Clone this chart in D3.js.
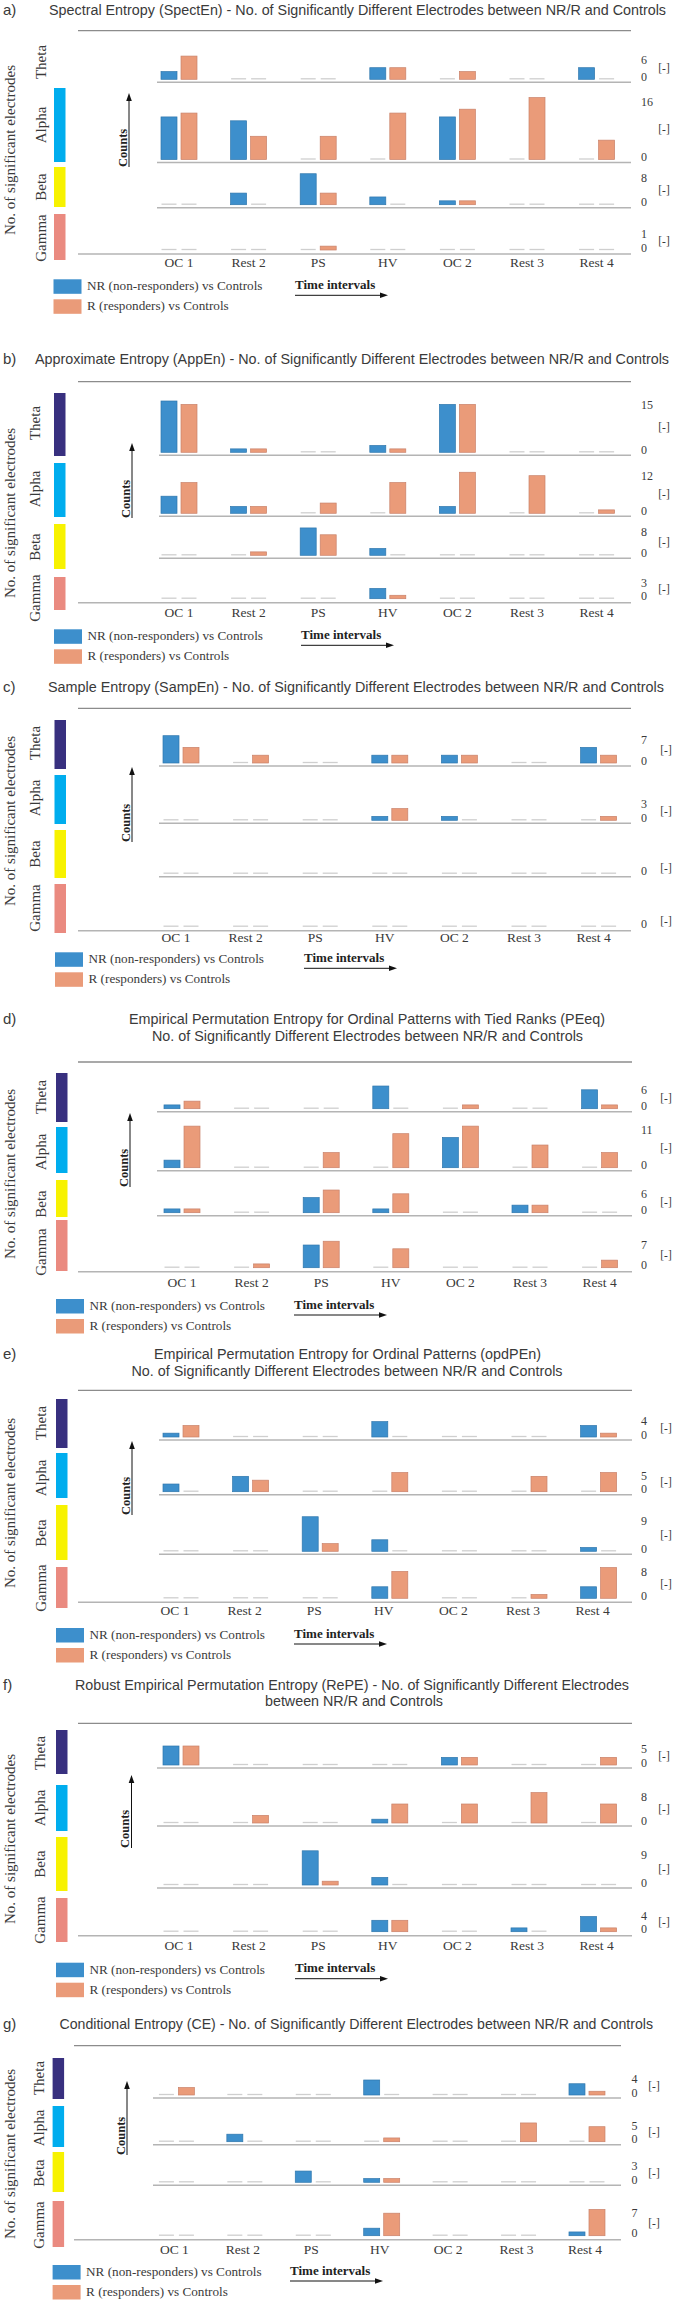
<!DOCTYPE html>
<html>
<head>
<meta charset="utf-8">
<script src="https://cdn.jsdelivr.net/npm/d3@7"></script>
<style>
body { margin:0; background:#fff; }
svg { display:block; }
</style>
</head>
<body>
<div id="chart"></div>
<script>
var categories = ['OC 1','Rest 2','PS','HV','OC 2','Rest 3','Rest 4'];
var bands = ['Theta','Alpha','Beta','Gamma'];
var seriesNames = ['NR (non-responders) vs Controls','R (responders) vs Controls'];
var panelLetters = ['a','b','c','d','e','f','g'];

// rows = Theta, Alpha, Beta, Gamma ; columns = categories
var spectEnNR = [[2,0,0,3,0,0,3],[11,10,0,0,11,0,0],[0,3,8,2,1,0,0],[0,0,0,0,0,0,0]];
var spectEnR  = [[6,0,0,3,2,0,0],[12,6,6,12,13,16,5],[0,0,3,0,1,0,0],[0,0,1,0,0,0,0]];
var spectEnMax = [6,16,8,1];

var appEnNR = [[15,1,0,2,14,0,0],[5,2,0,0,2,0,0],[0,0,8,2,0,0,0],[0,0,0,3,0,0,0]];
var appEnR  = [[14,1,0,1,14,0,0],[9,2,3,9,12,11,1],[0,1,6,0,0,0,0],[0,0,0,1,0,0,0]];
var appEnMax = [15,12,8,3];

var sampEnNR = [[7,0,0,2,2,0,4],[0,0,0,1,1,0,0],[0,0,0,0,0,0,0],[0,0,0,0,0,0,0]];
var sampEnR  = [[4,2,0,2,2,0,2],[0,0,0,3,0,0,1],[0,0,0,0,0,0,0],[0,0,0,0,0,0,0]];
var sampEnMax = [7,3,0,0];

var peeqNR = [[1,0,0,6,0,0,5],[2,0,0,0,8,0,0],[1,0,4,1,0,2,0],[0,0,6,0,0,0,0]];
var peeqR  = [[2,0,0,0,1,0,1],[11,0,4,9,11,6,4],[1,0,6,5,0,2,0],[0,1,7,5,0,0,2]];
var peeqMax = [6,11,6,7];

var opdPEnNR = [[1,0,0,4,0,0,3],[2,4,0,0,0,0,0],[0,0,9,3,0,0,1],[0,0,0,3,0,0,3]];
var opdPEnR  = [[3,0,0,0,0,0,1],[0,3,0,5,0,4,5],[0,0,2,0,0,0,0],[0,0,0,7,0,1,8]];
var opdPEnMax = [4,5,9,8];

var repeNR = [[5,0,0,0,2,0,0],[0,0,0,1,0,0,0],[0,0,9,2,0,0,0],[0,0,0,3,0,1,4]];
var repeR  = [[5,0,0,0,2,0,2],[0,2,0,5,5,8,5],[0,0,1,0,0,0,0],[0,0,0,3,0,0,1]];
var repeMax = [5,8,9,4];

var ceNR = [[0,0,0,4,0,0,3],[0,2,0,0,0,0,0],[0,0,3,1,0,0,0],[0,0,0,2,0,0,1]];
var ceR  = [[2,0,0,0,0,0,1],[0,0,0,1,0,5,4],[0,0,0,1,0,0,0],[0,0,0,6,0,0,7]];
var ceMax = [4,5,3,7];

var panelTitles = [
  ['Spectral Entropy (SpectEn) - No. of Significantly Different Electrodes between NR/R and Controls'],
  ['Approximate Entropy (AppEn) - No. of Significantly Different Electrodes between NR/R and Controls'],
  ['Sample Entropy (SampEn) - No. of Significantly Different Electrodes between NR/R and Controls'],
  ['Empirical Permutation Entropy for Ordinal Patterns with Tied Ranks (PEeq)','No. of Significantly Different Electrodes between NR/R and Controls'],
  ['Empirical Permutation Entropy for Ordinal Patterns (opdPEn)','No. of Significantly Different Electrodes between NR/R and Controls'],
  ['Robust Empirical Permutation Entropy (RePE) - No. of Significantly Different Electrodes','between NR/R and Controls'],
  ['Conditional Entropy (CE) - No. of Significantly Different Electrodes between NR/R and Controls']
];
var panelNR = [spectEnNR, appEnNR, sampEnNR, peeqNR, opdPEnNR, repeNR, ceNR];
var panelR = [spectEnR, appEnR, sampEnR, peeqR, opdPEnR, repeR, ceR];
var panelMax = [spectEnMax, appEnMax, sampEnMax, peeqMax, opdPEnMax, repeMax, ceMax];

// page layout of each panel (pixels)
var layouts = [
  {titleY:[14.5], titleX:[[49,617]], top:30.7, base:[79.3,159.5,204.7,250], unit:3.87,
   cbar:[null,[88,162],[167,207],[214,260]], cbx:54, lab:[62,125,187,238], labX:40.5, yTitle:150,
   counts:[129,167,93], cat:262.3, catDx:0, leg:279.3, legX:53.5, time:295, xr:[144.2,631.4], lines:[78,157,631], rx:641, bx:664},
  {titleY:[364], titleX:[[35,634]], top:381.7, base:[452.3,513.3,555.3,598.7], unit:3.42,
   cbar:[[393,456],[463,517],[524,569],[577,610]], cbx:54, lab:[423,489,547,598], labX:35, yTitle:513,
   counts:[132,518,443], cat:612.7, catDx:0, leg:629.3, legX:54, time:301, xr:[144.2,631.4], lines:[78,159,631], rx:641, bx:664},
  {titleY:[691.7], titleX:[[48,616]], top:708.3, base:[763,820.3,873.7,926.7], unit:3.9,
   cbar:[[720,769],[775,824],[830,878],[884,933]], cbx:54.5, lab:[743,798,854,908], labX:35, yTitle:821,
   counts:[132,842,767], cat:937.7, catDx:-5, leg:952.3, legX:55, time:304, xr:[146.2,633.4], lines:[78,159,631], rx:641, bx:666},
  {titleY:[1024,1040.7], titleX:[[129,476],[152,431]], top:1062, base:[1108.7,1167.7,1212.7,1267.7], unit:3.78,
   cbar:[[1073,1122],[1127,1173],[1180,1217],[1220,1271]], cbx:56, lab:[1097,1152,1204,1252], labX:41, yTitle:1174,
   counts:[130,1187,1113], cat:1282.7, catDx:0, leg:1299, legX:56, time:294, xr:[147.2,634.4], lines:[78,157,632], rx:641, bx:666},
  {titleY:[1359,1375.7], titleX:[[154,387],[131.5,431]], top:1390.3, base:[1437,1491.7,1551.3,1598.3], unit:3.84,
   cbar:[[1399,1448],[1453,1498],[1505,1560],[1567,1608]], cbx:56, lab:[1423,1478,1533,1588], labX:41, yTitle:1503,
   counts:[132,1515,1441], cat:1610.7, catDx:-6, leg:1628, legX:56, time:294, xr:[146.2,633.4], lines:[78,159,632], rx:641, bx:666},
  {titleY:[1689.7,1706.3], titleX:[[75,554],[265,178]], top:1723.3, base:[1765,1823,1885,1931.7], unit:3.8,
   cbar:[[1730,1774],[1785,1831],[1837,1891],[1898,1942]], cbx:56, lab:[1753,1808,1864,1920], labX:40, yTitle:1839,
   counts:[131.5,1848,1775], cat:1945.7, catDx:-2, leg:1962.7, legX:56, time:295, xr:[146.2,633.4], lines:[78,157,632], rx:641, bx:664},
  {titleY:[2029], titleX:[[59.5,593.5]], top:2045.7, base:[2095,2141.7,2182.3,2235.7], unit:3.75,
   cbar:[[2058,2099],[2106,2147],[2152,2192],[2201,2247]], cbx:52.6, lab:[2078,2128,2173,2225], labX:39, yTitle:2154,
   counts:[127,2155,2081], cat:2249, catDx:-2, leg:2265, legX:52.6, time:290, xr:[142.2,621.2], lines:[74,153,621], rx:631.5, bx:654}
];

var bandColours = ['#38307f','#00adee','#f7f200','#ea8a80'];
var barColours = ['#3d8fcc','#ea9b79'];
var barStroke = ['#2f77ad','#c9826a'];
var serif = "'Liberation Serif','Times New Roman',serif";
var sans = "'Liberation Sans','Open Sans',sans-serif";
var ink = '#3a3a3a';

var svg = d3.select('#chart').append('svg').attr('width', 674).attr('height', 2305);

function arrowHead(g, pts) {
  g.append('path').attr('d', 'M' + pts.join('L') + 'Z').attr('fill', '#111');
}

panelLetters.forEach(function(letter, pi) {
  var L = layouts[pi];
  var g = svg.append('g');

  // title
  g.append('text').attr('x', 3).attr('y', L.titleY[0])
    .attr('font-family', sans).attr('font-size', 15).attr('fill', ink).text(letter + ')');
  panelTitles[pi].forEach(function(t, k) {
    var tt = g.append('text').attr('x', L.titleX[k][0]).attr('y', L.titleY[k])
      .attr('font-family', sans).attr('font-size', 15).attr('fill', ink).text(t);
    // shrink the font until the natural width fits, then fine-fit the length
    var w = tt.node().getComputedTextLength();
    if (w > L.titleX[k][1]) tt.attr('font-size', 15 * L.titleX[k][1] / w);
    tt.attr('textLength', L.titleX[k][1]).attr('lengthAdjust', 'spacingAndGlyphs');
  });

  // top line
  g.append('line').attr('x1', L.lines[0]).attr('x2', L.lines[2]).attr('y1', L.top).attr('y2', L.top)
    .attr('stroke', '#8c8c8c').attr('stroke-width', 1.3);

  var x = d3.scaleBand().domain(categories).range(L.xr);
  var xs = d3.scaleBand().domain(['NR','R']).range([-18, 18]).paddingInner(0.2);

  bands.forEach(function(band, bi) {
    var base = L.base[bi];
    var y = d3.scaleLinear().domain([0, 10]).range([base, base - 10 * L.unit]);
    var last = bi == bands.length - 1;

    // separator below the row
    g.append('line').attr('x1', last ? L.lines[0] : L.lines[1]).attr('x2', L.lines[2])
      .attr('y1', base + (last ? 4 : 3)).attr('y2', base + (last ? 4 : 3))
      .attr('stroke', '#b4b4b4').attr('stroke-width', 1.4);

    // colour bar + band name
    if (L.cbar[bi]) {
      g.append('rect').attr('x', L.cbx).attr('y', L.cbar[bi][0]).attr('width', 11.5)
        .attr('height', L.cbar[bi][1] - L.cbar[bi][0]).attr('fill', bandColours[bi]);
    }
    g.append('text').attr('transform', 'translate(' + L.labX + ',' + L.lab[bi] + ') rotate(-90)')
      .attr('text-anchor', 'middle').attr('dominant-baseline', 'central')
      .attr('font-family', serif).attr('font-size', 15).attr('fill', ink).text(band);

    // bars
    var rows = [panelNR[pi][bi], panelR[pi][bi]];
    ['NR','R'].forEach(function(s, si) {
      var grp = g.append('g');
      grp.selectAll('rect')
        .data(rows[si].map(function(v, j) { return {v: v, c: categories[j]}; }).filter(function(d) { return d.v > 0; }))
        .enter().append('rect')
        .attr('x', function(d) { return x(d.c) + x.bandwidth() / 2 + xs(s); })
        .attr('y', function(d) { return y(d.v); })
        .attr('width', xs.bandwidth())
        .attr('height', function(d) { return y(0) - y(d.v); })
        .attr('fill', barColours[si])
        .attr('stroke', barStroke[si]).attr('stroke-width', 0.7);
      grp.selectAll('line')
        .data(rows[si].map(function(v, j) { return {v: v, c: categories[j]}; }).filter(function(d) { return d.v == 0; }))
        .enter().append('line')
        .attr('x1', function(d) { return x(d.c) + x.bandwidth() / 2 + xs(s) + 0.5; })
        .attr('x2', function(d) { return x(d.c) + x.bandwidth() / 2 + xs(s) + xs.bandwidth() - 0.5; })
        .attr('y1', y(0) - 0.5).attr('y2', y(0) - 0.5)
        .attr('stroke', '#cfcfcf').attr('stroke-width', 1.3);
    });

    // right axis labels
    var max = panelMax[pi][bi];
    var zeroY = base - 2.5;
    var maxY = max > 0 ? Math.min(y(max) + 4, base - 16) : zeroY;
    var rl = [{t: '0', y: zeroY}];
    if (max > 0) rl.push({t: String(max), y: maxY});
    g.selectAll('text.tick' + bi).data(rl).enter().append('text')
      .attr('x', L.rx).attr('y', function(d) { return d.y; })
      .attr('dominant-baseline', 'central')
      .attr('font-family', serif).attr('font-size', 12).attr('fill', ink)
      .text(function(d) { return d.t; });
    g.append('text').attr('x', L.bx).attr('y', (zeroY + maxY) / 2 - (max > 0 ? 0 : 3))
      .attr('text-anchor', 'middle').attr('dominant-baseline', 'central')
      .attr('font-family', serif).attr('font-size', 11.5).attr('fill', ink).text('[-]');
  });

  // category labels
  g.selectAll('text.cat').data(categories).enter().append('text')
    .attr('x', function(d) { return x(d) + x.bandwidth() / 2 + L.catDx; })
    .attr('y', L.cat + 4.5)
    .attr('text-anchor', 'middle')
    .attr('font-family', serif).attr('font-size', 13.5).attr('fill', ink)
    .text(function(d) { return d; });

  // y title
  g.append('text').attr('transform', 'translate(10,' + L.yTitle + ') rotate(-90)')
    .attr('text-anchor', 'middle').attr('dominant-baseline', 'central')
    .attr('font-family', serif).attr('font-size', 15).attr('fill', ink)
    .text('No. of significant electrodes');

  // counts arrow
  var cx = L.counts[0], cb = L.counts[1], ct = L.counts[2];
  g.append('line').attr('x1', cx).attr('x2', cx).attr('y1', cb).attr('y2', ct + 6)
    .attr('stroke', '#111').attr('stroke-width', 1);
  arrowHead(g, [[cx, ct], [cx - 2.8, ct + 8], [cx + 2.8, ct + 8]]);
  g.append('text').attr('transform', 'translate(' + (cx - 2.5) + ',' + cb + ') rotate(-90)')
    .attr('font-family', serif).attr('font-weight', 'bold').attr('font-size', 12.5).attr('fill', '#222')
    .text('Counts');

  // legend
  seriesNames.forEach(function(s, si) {
    g.append('rect').attr('x', L.legX).attr('y', L.leg + si * 20).attr('width', 28).attr('height', 14.5)
      .attr('fill', barColours[si]);
    g.append('text').attr('x', L.legX + 33.5).attr('y', L.leg + 11 + si * 20)
      .attr('font-family', serif).attr('font-size', 13.2).attr('fill', ink).text(s);
  });
  g.append('text').attr('x', L.time).attr('y', L.leg + 9.5)
    .attr('font-family', serif).attr('font-weight', 'bold').attr('font-size', 13).attr('fill', '#222')
    .text('Time intervals');
  var ay = L.leg + 16;
  g.append('line').attr('x1', L.time).attr('x2', L.time + 86).attr('y1', ay).attr('y2', ay)
    .attr('stroke', '#111').attr('stroke-width', 1);
  arrowHead(g, [[L.time + 93, ay], [L.time + 85, ay - 2.8], [L.time + 85, ay + 2.8]]);
});
</script>
</body>
</html>
